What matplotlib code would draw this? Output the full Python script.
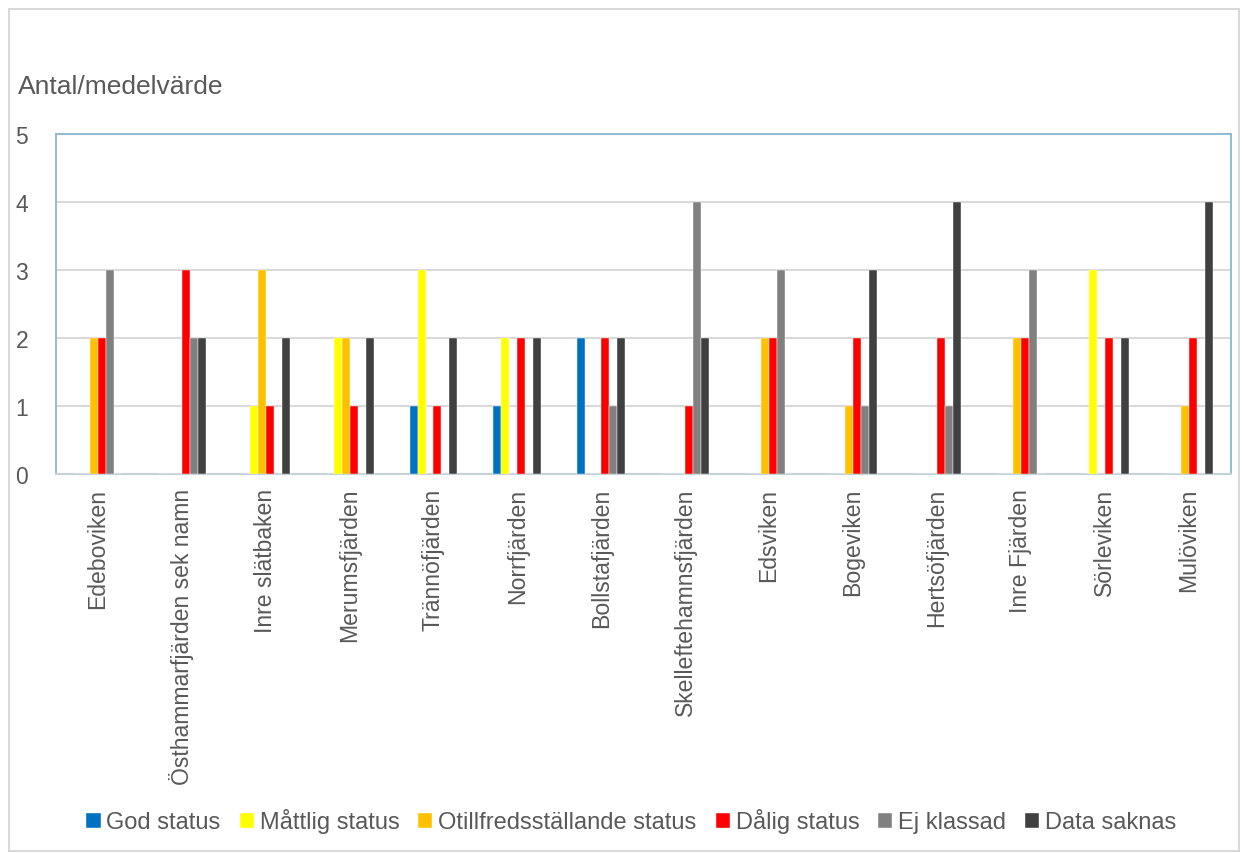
import numpy as np
import matplotlib.pyplot as plt
from matplotlib.patches import Rectangle

plt.rcParams['font.family'] = ['Liberation Sans', 'DejaVu Sans']

# Vattenförekomster och antal per statusklass
lokaler = ["Edeboviken", "Östhammarfjärden sek namn", "Inre slätbaken",
           "Merumsfjärden", "Trännöfjärden", "Norrfjärden", "Bollstafjärden",
           "Skelleftehamnsfjärden", "Edsviken", "Bogeviken", "Hertsöfjärden",
           "Inre Fjärden", "Sörleviken", "Mulöviken"]

god      = [0, 0, 0, 0, 1, 1, 2, 0, 0, 0, 0, 0, 0, 0]
mattlig  = [0, 0, 1, 2, 3, 2, 0, 0, 0, 0, 0, 0, 3, 0]
otillfr  = [2, 0, 3, 2, 0, 0, 0, 0, 2, 1, 0, 2, 0, 1]
dalig    = [2, 3, 1, 1, 1, 2, 2, 1, 2, 2, 2, 2, 2, 2]
ej_klass = [3, 2, 0, 0, 0, 0, 1, 4, 3, 1, 1, 3, 0, 0]
saknas   = [0, 2, 2, 2, 2, 2, 2, 2, 0, 3, 4, 0, 2, 4]

serier = [
    ("God status", god, "#0070C0"),
    ("Måttlig status", mattlig, "#FFFF00"),
    ("Otillfredsställande status", otillfr, "#FFC000"),
    ("Dålig status", dalig, "#FF0000"),
    ("Ej klassad", ej_klass, "#808080"),
    ("Data saknas", saknas, "#404040"),
]

textfarg = "#595959"

fig = plt.figure(figsize=(12.43, 8.54), dpi=100)
ax = fig.add_axes([0.045, 0.4438, 0.945, 0.398])

x = np.arange(len(lokaler))
bredd = 0.095
for i, (namn, varden, farg) in enumerate(serier):
    ax.bar(x + (i - 2.5) * bredd, varden, bredd, color=farg, label=namn,
           edgecolor="white", linewidth=0.3, zorder=3)

ax.set_xlim(-0.5, len(lokaler) - 0.5)
ax.set_ylim(0, 5)
ax.set_yticks(range(6))
ax.yaxis.grid(True, color="#D9D9D9", linewidth=1.5, zorder=0)
ax.set_axisbelow(True)

ax.set_xticks(x)
ax.set_xticklabels(lokaler, rotation=90, va="top", ha="center")
ax.tick_params(axis="x", length=0, pad=10, labelsize=16.6, labelcolor=textfarg)
ax.tick_params(axis="y", length=0, pad=20, labelsize=16.5, labelcolor=textfarg)

for sida in ["top", "left", "right"]:
    ax.spines[sida].set_color("#8AB8CF")
    ax.spines[sida].set_linewidth(1.3)
ax.spines["bottom"].set_color("#C5D2DA")
ax.spines["bottom"].set_linewidth(1.5)

fig.text(0.0145, 0.898, "Antal/medelvärde", fontsize=19, color=textfarg,
         va="center", ha="left")

fig.legend(loc="center", bbox_to_anchor=(0.508, 0.0375), ncol=6,
           frameon=False, fontsize=17, labelcolor=textfarg,
           handlelength=0.6, handleheight=0.6, handletextpad=0.25,
           columnspacing=0.8)

# ram runt hela diagrammet
fig.patches.append(Rectangle((0.007, 0.002), 0.99, 0.986,
                             transform=fig.transFigure, fill=False,
                             edgecolor="#D9D9D9", linewidth=1.5))

fig.savefig("out.png", dpi=100)
